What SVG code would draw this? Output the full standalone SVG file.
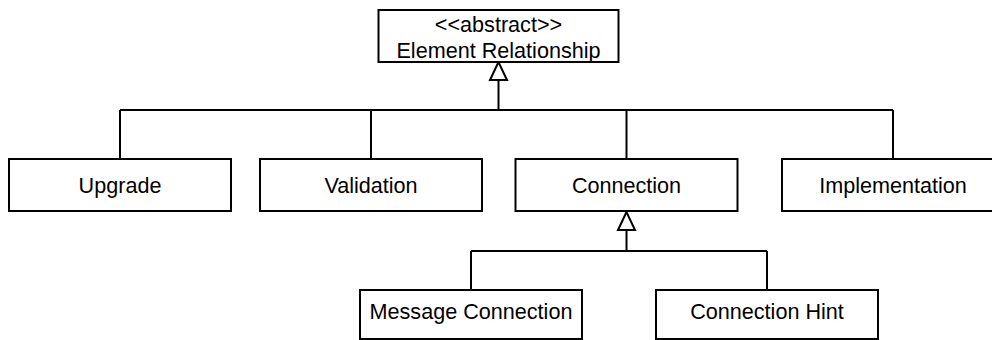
<svg xmlns="http://www.w3.org/2000/svg" width="992" height="340" viewBox="0 0 992 340">
  <style>
    .box { fill: #ffffff; stroke: #000000; stroke-width: 2; }
    .lbl { font-family: "Liberation Sans", Arial, sans-serif; font-size: 21.6px; fill: #000000; text-anchor: middle; }
    .edge { fill: none; stroke: #000000; stroke-width: 2; }
    .head { fill: #ffffff; stroke: #000000; stroke-width: 2; stroke-linejoin: miter; }
  </style>
  <rect width="992" height="340" fill="#ffffff"/>

  <!-- generalization connectors -->
  <g id="connectors">
    <path class="edge" d="M498.5 80 V110 M120 110 H893 M120 110 V159 M371 110 V159 M626.5 110 V159 M893 110 V159"/>
    <polygon class="head" points="498.5,62 490,80 507,80"/>
    <path class="edge" d="M626.5 230 V251 M471 251 H767 M471 251 V290 M767 251 V290"/>
    <polygon class="head" points="626.5,212 618,230 635,230"/>
  </g>

  <g id="element-relationship">
    <rect class="box" x="378.5" y="10" width="240" height="52"/>
    <text class="lbl" x="498.5" y="31.5">&lt;&lt;abstract&gt;&gt;</text>
    <text class="lbl" x="498.5" y="57.5">Element Relationship</text>
  </g>

  <g id="upgrade">
    <rect class="box" x="9" y="159" width="222" height="52"/>
    <text class="lbl" x="120" y="192.5">Upgrade</text>
  </g>

  <g id="validation">
    <rect class="box" x="260" y="159" width="222" height="52"/>
    <text class="lbl" x="371" y="192.5">Validation</text>
  </g>

  <g id="connection">
    <rect class="box" x="515.5" y="159" width="222" height="52"/>
    <text class="lbl" x="626.5" y="192.5">Connection</text>
  </g>

  <g id="implementation">
    <rect class="box" x="782" y="159" width="222" height="52"/>
    <text class="lbl" x="893" y="192.5">Implementation</text>
  </g>

  <g id="message-connection">
    <rect class="box" x="360" y="290" width="222" height="49"/>
    <text class="lbl" x="471" y="318.5">Message Connection</text>
  </g>

  <g id="connection-hint">
    <rect class="box" x="656" y="290" width="222" height="49"/>
    <text class="lbl" x="767" y="318.5">Connection Hint</text>
  </g>
</svg>
